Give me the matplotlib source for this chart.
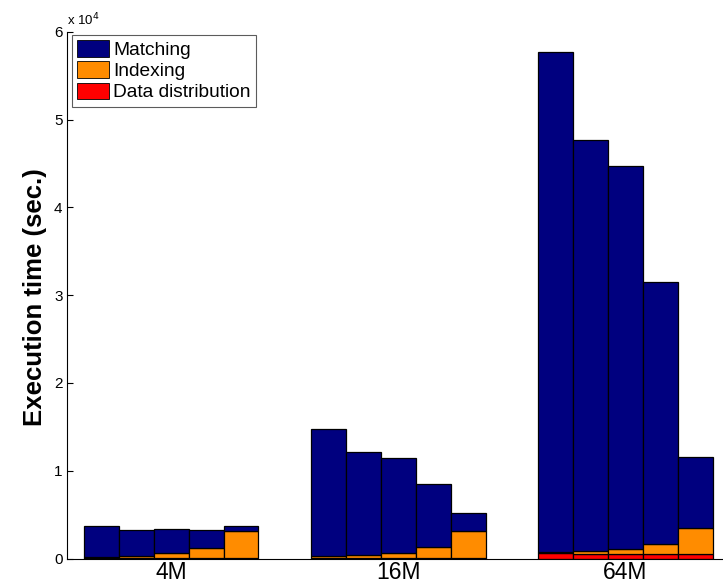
import numpy as np
import matplotlib
matplotlib.use("Agg")
import matplotlib.pyplot as plt
from matplotlib.patches import Patch

# ---------- data ----------
groups = ["4M", "16M", "64M"]
series = ["Matching", "Indexing", "Data distribution"]

# five bars per group, stacked bottom-up: data distribution, indexing, matching
data_dist = np.array([
    [30, 30, 30, 30, 30],
    [60, 60, 60, 60, 60],
    [600, 550, 550, 500, 500],
])
indexing = np.array([
    [140, 250, 560, 1200, 3100],
    [190, 300, 530, 1250, 3070],
    [170, 340, 500, 1150, 3010],
])
matching = np.array([
    [3560, 2970, 2770, 1980, 540],
    [14530, 11740, 10820, 7210, 2020],
    [56880, 46810, 43690, 29840, 8020],
])

colors = {"Matching": "#00007f", "Indexing": "#ff8c00", "Data distribution": "#ff0000"}

plt.rcParams["font.family"] = ["Liberation Sans", "DejaVu Sans"]

fig = plt.figure(figsize=(7.23, 5.85), dpi=100)
ax = fig.add_axes([66.7 / 723, 26.5 / 585, 1 - 66.7 / 723, (558.5 - 31.7) / 585])

n_bars = data_dist.shape[1]
group_w = min(0.8, n_bars / (n_bars + 1.5))
bar_w = group_w / n_bars
x = np.arange(1, len(groups) + 1)

for i in range(n_bars):
    xi = x - group_w / 2 + bar_w * (i + 0.5)
    kw = dict(width=bar_w, edgecolor="black", linewidth=0.9)
    ax.bar(xi, data_dist[:, i], color=colors["Data distribution"], **kw)
    ax.bar(xi, indexing[:, i], bottom=data_dist[:, i], color=colors["Indexing"], **kw)
    ax.bar(xi, matching[:, i], bottom=data_dist[:, i] + indexing[:, i],
           color=colors["Matching"], **kw)

ax.set_xlim(0.5405, 3.4295)
ax.set_ylim(0, 60000)
ax.set_xticks(x)
ax.set_xticklabels(groups, fontsize=16.5)
ax.set_yticks(np.arange(0, 60001, 10000))
ax.set_yticklabels([str(v) for v in range(7)], fontsize=11)
ax.tick_params(axis="y", direction="in", length=4.5, width=0.8, pad=3)
ax.tick_params(axis="x", length=0, pad=2)
ax.spines["top"].set_visible(False)
ax.spines["right"].set_visible(False)
ax.spines["left"].set_linewidth(0.8)
ax.spines["bottom"].set_linewidth(0.8)

ax.set_ylabel("Execution time (sec.)", fontsize=18.5, fontweight="bold")
ax.yaxis.set_label_coords(35 / 723, 1 - 297 / 585, transform=fig.transFigure)
ax.yaxis.label.set_va("center")

fig.text(67 / 723, 1 - 20 / 585, r"x 10$^4$", fontsize=9.5, ha="left", va="center")

handles = [Patch(facecolor=colors[s], edgecolor="black", linewidth=0.6) for s in series]
leg = ax.legend(handles, series, loc="upper left",
                bbox_to_anchor=(71.7 / 723, 1 - 35 / 585), bbox_transform=fig.transFigure,
                fontsize=13.8, frameon=True, fancybox=False, borderaxespad=0,
                handlelength=1.67, handleheight=0.94, handletextpad=0.22,
                labelspacing=0.12, borderpad=0.28)
leg.get_frame().set_edgecolor("#333333")
leg.get_frame().set_linewidth(0.8)

fig.savefig("out.png", dpi=100)
